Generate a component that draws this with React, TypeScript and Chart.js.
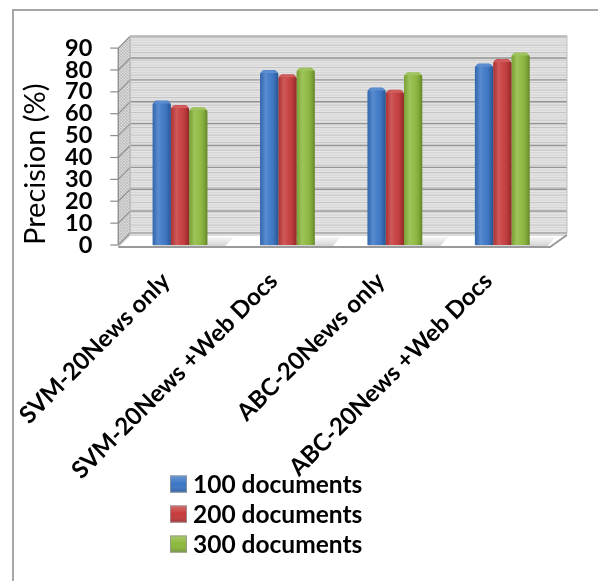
import React, { useEffect, useRef } from "react";
import { Chart, registerables } from "chart.js";

Chart.register(...registerables);

const categories = [
  "SVM-20News only",
  "SVM-20News +Web Docs",
  "ABC-20News only",
  "ABC-20News +Web Docs",
];
const seriesNames = ["100 documents", "200 documents", "300 documents"];
const docs100 = [66, 80, 72, 83];
const docs200 = [64, 78, 71, 85];
const docs300 = [63, 81, 79, 88];
const yMin = 0;
const yMax = 90;
const yStep = 10;
const yTitle = "Precision (%)";

const seriesColors = ["#3a76c6", "#c63a3b", "#8cb83c"];
const FONT = "Lato, 'Open Sans', sans-serif";

const decorPlugin = {
  id: "decor3d",
  beforeDraw(chart: any) {
    const { ctx } = chart;
    ctx.save();
    ctx.fillStyle = "#ffffff";
    ctx.fillRect(0, 0, chart.width, chart.height);
    ctx.strokeStyle = "#a6a6a6";
    ctx.lineWidth = 2;
    ctx.beginPath();
    ctx.moveTo(13, chart.height + 5);
    ctx.lineTo(13, 10);
    ctx.lineTo(chart.width + 5, 10);
    ctx.stroke();
    ctx.restore();
  },
  beforeDatasetsDraw(chart: any) {
    const { ctx, chartArea, scales } = chart;
    const y = scales.y;
    const L = chartArea.left;
    const R = chartArea.right;
    const T = chartArea.top;
    const B = chartArea.bottom;
    const dy = 12;
    const fl = L - 8;
    const bl = L + 4;
    const fr = R - 6;
    const br = R + 11;
    ctx.save();
    // back wall
    ctx.fillStyle = "#e4e4e4";
    ctx.fillRect(bl, T - dy, br - bl, B - T);
    ctx.lineWidth = 1;
    let idx = 0;
    for (let yy = T - dy + 1.5; yy < B - dy; yy += 2.5) {
      ctx.strokeStyle = idx % 3 === 0 ? "#c2c2c2" : "#d4d4d4";
      ctx.beginPath();
      ctx.moveTo(bl, yy);
      ctx.lineTo(br, yy);
      ctx.stroke();
      idx++;
    }
    // side wall
    const sidePath = () => {
      ctx.beginPath();
      ctx.moveTo(fl, T);
      ctx.lineTo(bl, T - dy);
      ctx.lineTo(bl, B - dy);
      ctx.lineTo(fl, B);
      ctx.closePath();
    };
    sidePath();
    ctx.fillStyle = "#dedede";
    ctx.fill();
    ctx.save();
    sidePath();
    ctx.clip();
    ctx.strokeStyle = "#bdbdbd";
    for (let k = T - 30; k < B + 30; k += 3) {
      ctx.beginPath();
      ctx.moveTo(fl, k);
      ctx.lineTo(bl, k + 12);
      ctx.stroke();
      ctx.beginPath();
      ctx.moveTo(fl, k);
      ctx.lineTo(bl, k - 12);
      ctx.stroke();
    }
    ctx.restore();
    sidePath();
    ctx.strokeStyle = "#b0b0b0";
    ctx.stroke();
    // gridlines
    ctx.strokeStyle = "#959595";
    ctx.lineWidth = 1.3;
    for (let v = yMin; v <= yMax; v += yStep) {
      const py = y.getPixelForValue(v);
      ctx.beginPath();
      ctx.moveTo(fl, py);
      ctx.lineTo(bl, py - dy);
      ctx.lineTo(br, py - dy);
      ctx.stroke();
    }
    ctx.strokeStyle = "#c0c0c0";
    ctx.lineWidth = 1;
    ctx.strokeRect(bl, T - dy, br - bl, B - T);
    // floor
    ctx.beginPath();
    ctx.moveTo(fl, B + 2);
    ctx.lineTo(bl, B - dy + 2);
    ctx.lineTo(br, B - dy + 2);
    ctx.lineTo(fr, B + 2);
    ctx.closePath();
    ctx.fillStyle = "#ffffff";
    ctx.fill();
    ctx.strokeStyle = "#b8b8b8";
    ctx.lineWidth = 1;
    ctx.stroke();
    ctx.strokeStyle = "#9a9a9a";
    ctx.lineWidth = 2;
    ctx.beginPath();
    ctx.moveTo(fl, B + 2);
    ctx.lineTo(fr, B + 2);
    ctx.lineTo(br, B - dy + 2);
    ctx.stroke();
    // y axis line and ticks
    ctx.strokeStyle = "#8c8c8c";
    ctx.lineWidth = 1.2;
    ctx.beginPath();
    ctx.moveTo(fl, T);
    ctx.lineTo(fl, B);
    ctx.stroke();
    for (let v = yMin; v <= yMax; v += yStep) {
      const py = y.getPixelForValue(v);
      ctx.beginPath();
      ctx.moveTo(fl - 8, py);
      ctx.lineTo(fl, py);
      ctx.stroke();
    }
    // shadows of bar groups on the floor
    const metas = chart.data.datasets.map((_: any, i: number) => chart.getDatasetMeta(i));
    const n = chart.data.labels.length;
    for (let j = 0; j < n; j++) {
      const first = metas[0].data[j];
      const last = metas[metas.length - 1].data[j];
      if (!first || !last) continue;
      const x0 = first.x - first.width / 2;
      const x1 = last.x + last.width / 2;
      const g = ctx.createLinearGradient(0, B - 10, 0, B + 2);
      g.addColorStop(0, "rgba(120,120,120,0.0)");
      g.addColorStop(1, "rgba(120,120,120,0.35)");
      ctx.fillStyle = g;
      ctx.beginPath();
      ctx.moveTo(x0, B + 1);
      ctx.lineTo(x1 + 18, B + 1);
      ctx.lineTo(x1 + 26, B - 8);
      ctx.lineTo(x0 + 8, B - 8);
      ctx.closePath();
      ctx.fill();
    }
    ctx.restore();
  },
  afterDatasetsDraw(chart: any) {
    const { ctx } = chart;
    ctx.save();
    chart.data.datasets.forEach((_: any, i: number) => {
      const meta = chart.getDatasetMeta(i);
      meta.data.forEach((bar: any) => {
        const x0 = bar.x - bar.width / 2;
        const x1 = bar.x + bar.width / 2;
        const top = bar.y;
        const base = bar.base;
        const g = ctx.createLinearGradient(x0, 0, x1, 0);
        g.addColorStop(0, "rgba(0,0,0,0.12)");
        g.addColorStop(0.3, "rgba(255,255,255,0.16)");
        g.addColorStop(0.55, "rgba(255,255,255,0.05)");
        g.addColorStop(0.85, "rgba(0,0,0,0.12)");
        g.addColorStop(1, "rgba(0,0,0,0.28)");
        ctx.fillStyle = g;
        ctx.fillRect(x0, top + 3, x1 - x0, base - top - 3);
        ctx.fillStyle = "rgba(255,255,255,0.18)";
        ctx.beginPath();
        ctx.ellipse(bar.x, top + 3, bar.width / 2 - 1, 3, 0, Math.PI, 2 * Math.PI);
        ctx.fill();
      });
    });
    ctx.restore();
  },
  afterDraw(chart: any) {
    const { ctx } = chart;
    ctx.save();
    const rows = [484, 514, 544];
    chart.data.datasets.forEach((ds: any, i: number) => {
      const cy = rows[i];
      const bx = 170;
      const bs = 17;
      ctx.fillStyle = ds.backgroundColor;
      ctx.fillRect(bx, cy - bs / 2, bs, bs);
      const g = ctx.createLinearGradient(0, cy - bs / 2, 0, cy + bs / 2);
      g.addColorStop(0, "rgba(255,255,255,0.25)");
      g.addColorStop(0.5, "rgba(255,255,255,0.0)");
      g.addColorStop(1, "rgba(0,0,0,0.2)");
      ctx.fillStyle = g;
      ctx.fillRect(bx, cy - bs / 2, bs, bs);
      ctx.strokeStyle = "rgba(150,150,150,0.8)";
      ctx.lineWidth = 1;
      ctx.strokeRect(bx + 0.5, cy - bs / 2 + 0.5, bs - 1, bs - 1);
      ctx.fillStyle = "#000000";
      ctx.font = `bold 24.5px ${FONT}`;
      ctx.textAlign = "left";
      ctx.textBaseline = "middle";
      ctx.fillText(ds.label, 193, cy + 1);
    });
    ctx.restore();
  },
};

export default function App() {
  const ref = useRef<HTMLCanvasElement | null>(null);
  useEffect(() => {
    if (!ref.current) return;
    const chart = new Chart(ref.current, {
      type: "bar",
      data: {
        labels: categories,
        datasets: [docs100, docs200, docs300].map((d, i) => ({
          label: seriesNames[i],
          data: d,
          backgroundColor: seriesColors[i],
          borderWidth: 0,
          borderRadius: { topLeft: 5, topRight: 5, bottomLeft: 0, bottomRight: 0 },
          borderSkipped: "bottom",
          categoryPercentage: 0.51,
          barPercentage: 1.0,
        })),
      },
      options: {
        responsive: false,
        animation: false,
        devicePixelRatio: 1,
        layout: { padding: { top: 45, right: 42, left: 0, bottom: 0 } },
        plugins: {
          legend: { display: false },
          tooltip: { enabled: false },
        },
        scales: {
          x: {
            grid: { display: false, drawTicks: false },
            border: { display: false },
            ticks: {
              color: "#000000",
              font: { family: FONT, size: 24, weight: "bold" },
              minRotation: 45,
              maxRotation: 45,
              padding: 22,
              labelOffset: -14,
              autoSkip: false,
            },
            afterFit: (scale: any) => {
              scale.height = 336;
            },
          },
          y: {
            min: yMin,
            max: yMax,
            grid: { display: false, drawTicks: false },
            border: { display: false },
            ticks: {
              stepSize: yStep,
              autoSkip: false,
              color: "#000000",
              font: { family: FONT, size: 23.5, weight: "bold" },
              padding: 34,
            },
            title: {
              display: true,
              text: yTitle,
              align: "start",
              color: "#000000",
              font: { family: FONT, size: 29, weight: "normal" },
              padding: { top: 18, bottom: 0 },
            },
            afterFit: (scale: any) => {
              scale.width = 126;
            },
          },
        },
      },
      plugins: [decorPlugin],
    });
    return () => chart.destroy();
  }, []);
  return (
    <div style={{ position: "absolute", left: 0, top: 0, width: 598, height: 581 }}>
      <canvas ref={ref} width={598} height={581} />
    </div>
  );
}
